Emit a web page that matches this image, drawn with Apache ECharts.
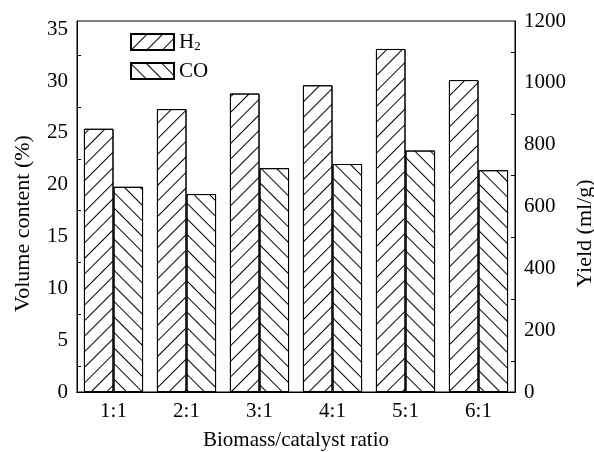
<!DOCTYPE html>
<html>
<head>
<meta charset="utf-8">
<script src="https://cdn.jsdelivr.net/npm/echarts@6/dist/echarts.min.js"></script>
<style>
html, body { margin: 0; padding: 0; background: #fff; }
#main { width: 594px; height: 452px; }
</style>
</head>
<body>
<div id="main"></div>
<script>
var ratios = ['1:1', '2:1', '3:1', '4:1', '5:1', '6:1'];
var h2Content = [25.4, 27.3, 28.8, 29.6, 33.1, 30.1];
var coContent = [19.8, 19.1, 21.6, 22.0, 23.3, 21.4];
var leftTicks = [0, 5, 10, 15, 20, 25, 30, 35];
var rightTicks = [0, 200, 400, 600, 800, 1000, 1200];

var font = 'Liberation Serif';
var myChart = echarts.init(document.getElementById('main'));

function hatch(angle) {
    return {
        symbol: 'rect',
        symbolSize: 1,
        color: '#000',
        dashArrayX: [1, 0],
        dashArrayY: [1, 9.6],
        rotation: angle
    };
}

var option = {
    backgroundColor: '#fff',
    animation: false,
    textStyle: { fontFamily: font, color: '#000' },
    grid: { left: 77, right: 79, top: 21, bottom: 60, containLabel: false, outerBoundsMode: 'none',
        show: true, borderColor: '#000', borderWidth: 1 },
    legend: {
        orient: 'vertical',
        left: 130,
        top: 31,
        padding: 0,
        icon: 'rect',
        itemWidth: 43,
        itemHeight: 16,
        itemGap: 7,
        textStyle: {
            fontFamily: font, fontSize: 21, color: '#000', lineHeight: 22,
            rich: {
                a: { fontFamily: font, fontSize: 21, color: '#000', lineHeight: 22 },
                b: { fontFamily: font, fontSize: 13, color: '#000', lineHeight: 13, verticalAlign: 'bottom' }
            }
        },
        formatter: function (name) {
            return name === 'H2' ? '{a|H}{b|2}' : '{a|' + name + '}';
        },
        data: ['H2', 'CO']
    },
    xAxis: [{
        type: 'category',
        data: ratios,
        position: 'bottom',
        name: 'Biomass/catalyst ratio',
        nameLocation: 'middle',
        nameGap: 38,
        nameMoveOverlap: false,
        nameTextStyle: { fontFamily: font, fontSize: 21, color: '#000' },
        axisLine: { lineStyle: { color: '#000', width: 1 } },
        axisTick: { inside: true, alignWithLabel: true, length: 5, lineStyle: { color: '#000' } },
        axisLabel: { fontFamily: font, fontSize: 21, color: '#000', margin: 9 }
    }, {
        type: 'category',
        data: ratios,
        position: 'top',
        axisLine: { lineStyle: { color: '#000', width: 1 } },
        axisTick: { inside: true, alignWithLabel: true, length: 5, lineStyle: { color: '#000' } },
        axisLabel: { show: false }
    }],
    yAxis: [{
        type: 'value',
        min: leftTicks[0],
        max: 35.8,
        interval: leftTicks[1] - leftTicks[0],
        position: 'left',
        name: 'Volume content (%)',
        nameLocation: 'middle',
        nameRotate: 90,
        nameGap: 43,
        nameMoveOverlap: false,
        nameTextStyle: { fontFamily: font, fontSize: 22, color: '#000', padding: [0, 34, 0, 0] },
        axisLine: { show: true, lineStyle: { color: '#000', width: 1 } },
        axisTick: { inside: true, length: 8, lineStyle: { color: '#000' } },
        minorTick: { show: true, splitNumber: 2, length: 4, lineStyle: { color: '#000' } },
        splitLine: { show: false },
        axisLabel: { fontFamily: font, fontSize: 21, color: '#000', margin: 9, showMaxLabel: false,
            formatter: function (v) { return leftTicks.indexOf(v) >= 0 ? String(v) : ''; } }
    }, {
        type: 'value',
        min: rightTicks[0],
        max: rightTicks[rightTicks.length - 1],
        interval: rightTicks[1] - rightTicks[0],
        position: 'right',
        name: 'Yield (ml/g)',
        nameLocation: 'middle',
        nameRotate: 90,
        nameGap: 59,
        nameMoveOverlap: false,
        nameTextStyle: { fontFamily: font, fontSize: 22, color: '#000', padding: [0, 54, 0, 0] },
        axisLine: { show: true, lineStyle: { color: '#000', width: 1 } },
        axisTick: { inside: true, length: 8, lineStyle: { color: '#000' } },
        minorTick: { show: true, splitNumber: 2, length: 4, lineStyle: { color: '#000' } },
        splitLine: { show: false },
        axisLabel: { fontFamily: font, fontSize: 21, color: '#000', margin: 9,
            formatter: function (v) { return String(v); } }
    }],
    series: [{
        name: 'H2',
        type: 'bar',
        data: h2Content,
        barGap: '0%',
        barCategoryGap: '19%',
        itemStyle: { color: '#fff', borderColor: '#000', borderWidth: 1, decal: hatch(-Math.PI / 4) }
    }, {
        name: 'CO',
        type: 'bar',
        data: coContent,
        barGap: '0%',
        barCategoryGap: '19%',
        itemStyle: { color: '#fff', borderColor: '#000', borderWidth: 1, decal: hatch(Math.PI / 4) }
    }]
};
myChart.setOption(option);
</script>
</body>
</html>
